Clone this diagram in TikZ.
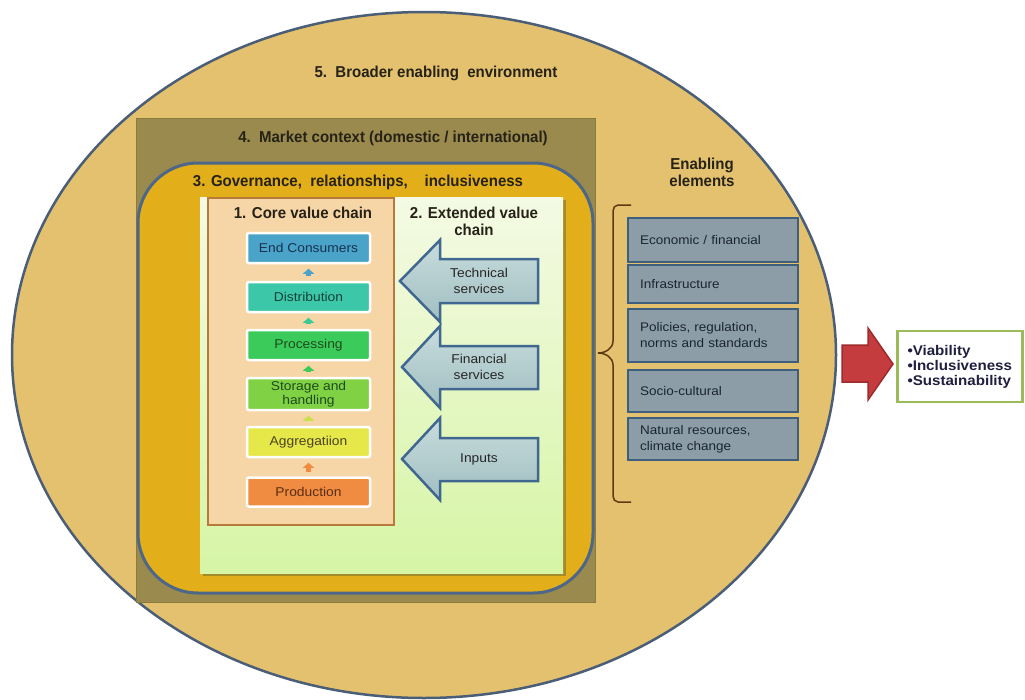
\documentclass[tikz,border=0pt]{standalone}
\usepackage{fontspec}
\setmainfont{Liberation Sans}[FakeStretch=1.08]
\newfontfamily\titlefont{Liberation Sans}[FakeStretch=0.95]
\usetikzlibrary{shapes.geometric,arrows.meta}
\definecolor{envfill}{HTML}{E3C16F}
\definecolor{envedge}{HTML}{4B5E78}
\definecolor{mktfill}{HTML}{9A8A4D}
\definecolor{mktedge}{HTML}{8A7A40}
\definecolor{govfill}{HTML}{E2AE1A}
\definecolor{govedge}{HTML}{4D6788}
\definecolor{greentop}{HTML}{F4FAE4}
\definecolor{greenbot}{HTML}{D6F5A5}
\definecolor{shadowc}{HTML}{A38B2A}
\definecolor{corefill}{HTML}{F6D6A6}
\definecolor{coreedge}{HTML}{B77A3A}
\definecolor{titlec}{HTML}{262218}
\definecolor{cEC}{HTML}{4AA3C8}
\definecolor{cDI}{HTML}{3CC8A8}
\definecolor{cPR}{HTML}{3BCB5A}
\definecolor{cST}{HTML}{80D244}
\definecolor{cAG}{HTML}{E6E84A}
\definecolor{cPO}{HTML}{F08B42}
\definecolor{tEC}{HTML}{16324F}
\definecolor{tDI}{HTML}{14403A}
\definecolor{tPR}{HTML}{1E4A1E}
\definecolor{tAG}{HTML}{4A4420}
\definecolor{tPO}{HTML}{5A2E14}
\definecolor{sarrtop}{HTML}{C8DCDD}
\definecolor{sarrbot}{HTML}{A0BEC1}
\definecolor{sarredge}{HTML}{40678F}
\definecolor{elfill}{HTML}{8D9DA8}
\definecolor{eledge}{HTML}{3E5E7E}
\definecolor{eltext}{HTML}{1A2530}
\definecolor{bracec}{HTML}{5C3A10}
\definecolor{redfill}{HTML}{C43C3E}
\definecolor{rededge}{HTML}{9E2A2C}
\definecolor{resedge}{HTML}{9BBB59}
\definecolor{restext}{HTML}{1F1F3F}
\begin{document}
\begin{tikzpicture}[x=1pt,y=-1pt,
  title/.style={font=\titlefont\bfseries\fontsize{15.8}{17}\selectfont, text=titlec, inner sep=0pt, align=center},
  chainbox/.style={draw=white, line width=2.5pt, rounded corners=2pt, minimum width=123pt, minimum height=30pt, inner sep=0pt, font=\fontsize{12.8}{14}\selectfont, align=center},
  smallarr/.style={line width=5pt, -{Triangle[length=5pt,width=11pt]}, shorten <=4.5pt, shorten >=4.5pt},
  servarr/.style={draw=sarredge, line width=2.5pt, top color=sarrtop, bottom color=sarrbot, line join=miter},
  servtext/.style={font=\fontsize{12.8}{16}\selectfont, text=black!85, align=center, inner sep=0pt},
  elembox/.style={draw=eledge, fill=elfill, line width=2.5pt, minimum width=170pt, text width=146pt, inner xsep=12pt, inner ysep=0pt, align=left, font=\fontsize{12.5}{16}\selectfont, text=eltext}
]
\useasboundingbox (0,0) rectangle (1025,699);
\fill[white] (0,0) rectangle (1025,699);

% 5. broader environment
\node[ellipse, draw=envedge, fill=envfill, line width=2.5pt, minimum width=824pt, minimum height=686pt, inner sep=0pt] (env) at (424,355) {};
\node[title] (t5) at (436,73) {5.\ \ Broader enabling\ \ environment};

% 4. market context
\node[draw=mktedge, fill=mktfill, line width=1pt, minimum width=459pt, minimum height=484pt, inner sep=0pt] (mkt) at (365.5,360) {};
\node[title] (t4) at (393,138) {4.\ \ Market context (domestic / international)};

% 3. governance
\node[draw=govedge, fill=govfill, line width=3pt, rounded corners=60pt, minimum width=455pt, minimum height=430pt, inner sep=0pt] (gov) at (365.5,378) {};
\node[title] (t3) at (358,182) {3. Governance,\ \ relationships,\ \ \ \ inclusiveness};

% 2. extended value chain
\node[fill=shadowc, minimum width=363pt, minimum height=376pt, inner sep=0pt] (greenshadow) at (384,388) {};
\node[top color=greentop, bottom color=greenbot, minimum width=363pt, minimum height=376pt, inner sep=0pt] (green) at (381.5,385) {};
\node[title] (t2) at (474,221) {2. Extended value\\chain};

% 1. core value chain
\node[draw=coreedge, fill=corefill, line width=2.5pt, minimum width=186pt, minimum height=327pt, inner sep=0pt] (core) at (301,361.5) {};
\node[title] (t1) at (303,213) {1. Core value chain};

\node[chainbox, fill=cEC, text=tEC] (ec) at (308.5,248) {End Consumers};
\node[chainbox, fill=cDI, text=tDI] (dist) at (308.5,297) {Distribution};
\node[chainbox, fill=cPR, text=tPR] (proc) at (308.5,345) {Processing};
\node[chainbox, fill=cST, text=tPR, minimum height=32pt, font=\fontsize{12.8}{14.5}\selectfont] (stor) at (308.5,394) {Storage and\\handling};
\node[chainbox, fill=cAG, text=tAG] (agg) at (308.5,442) {Aggregatiion};
\node[chainbox, fill=cPO, text=tPO, minimum height=29pt] (prod) at (308.5,492) {Production};

\draw[smallarr, cEC] (dist.north) -- (ec.south);
\draw[smallarr, cDI!80!cPR] (proc.north) -- (dist.south);
\draw[smallarr, cPR] (stor.north) -- (proc.south);
\draw[smallarr, cAG!70!cST] (agg.north) -- (stor.south);
\draw[smallarr, cPO] (prod.north) -- (agg.south);

% service block arrows
\draw[servarr] (400,281) -- ++(40,-41) -- ++(0,19) -- ++(98,0) -- ++(0,44) -- ++(-98,0) -- ++(0,19) -- cycle;
\node[servtext] (tech) at (479,281) {Technical\\services};
\draw[servarr] (402,367) -- ++(38,-41) -- ++(0,20) -- ++(98,0) -- ++(0,43) -- ++(-98,0) -- ++(0,19) -- cycle;
\node[servtext] (fin) at (479,367) {Financial\\services};
\draw[servarr] (402,459) -- ++(38,-41) -- ++(0,20) -- ++(98,0) -- ++(0,43) -- ++(-98,0) -- ++(0,19) -- cycle;
\node[servtext] (inp) at (479,459) {Inputs};

% enabling elements
\node[title] (tel) at (702,172) {\fontsize{15.8}{19}\selectfont Enabling\\elements};
\draw[bracec, line width=1.5pt] (631,205) -- (618,205) to[out=180,in=90] (613,211) -- (613,341) to[out=270,in=0] (598,353) to[out=0,in=90] (613,365) -- (613,496) to[out=270,in=180] (618,502) -- (631,502);
\node[elembox, minimum height=44pt] (e1) at (713,240) {Economic / financial};
\node[elembox, minimum height=38pt] (e2) at (713,284) {Infrastructure};
\node[elembox, minimum height=53pt] (e3) at (713,335.5) {Policies, regulation,\\norms and standards};
\node[elembox, minimum height=42pt] (e4) at (713,391) {Socio-cultural};
\node[elembox, minimum height=42pt] (e5) at (713,439) {Natural resources,\\climate change};

% outcome
\draw[draw=rededge, fill=redfill, line width=1.5pt, line join=miter] (842,345) -- (868,345) -- (868,328) -- (893,364) -- (868,400) -- (868,382) -- (842,382) -- cycle;
\node[draw=resedge, fill=white, line width=2.5pt, minimum width=125pt, minimum height=71pt, text width=105pt, inner xsep=10pt, inner ysep=0pt, align=left, font=\bfseries\fontsize{14}{15}\selectfont, text=restext] (res) at (960,366.5) {•Viability\\•Inclusiveness\\•Sustainability};
\end{tikzpicture}
\end{document}
